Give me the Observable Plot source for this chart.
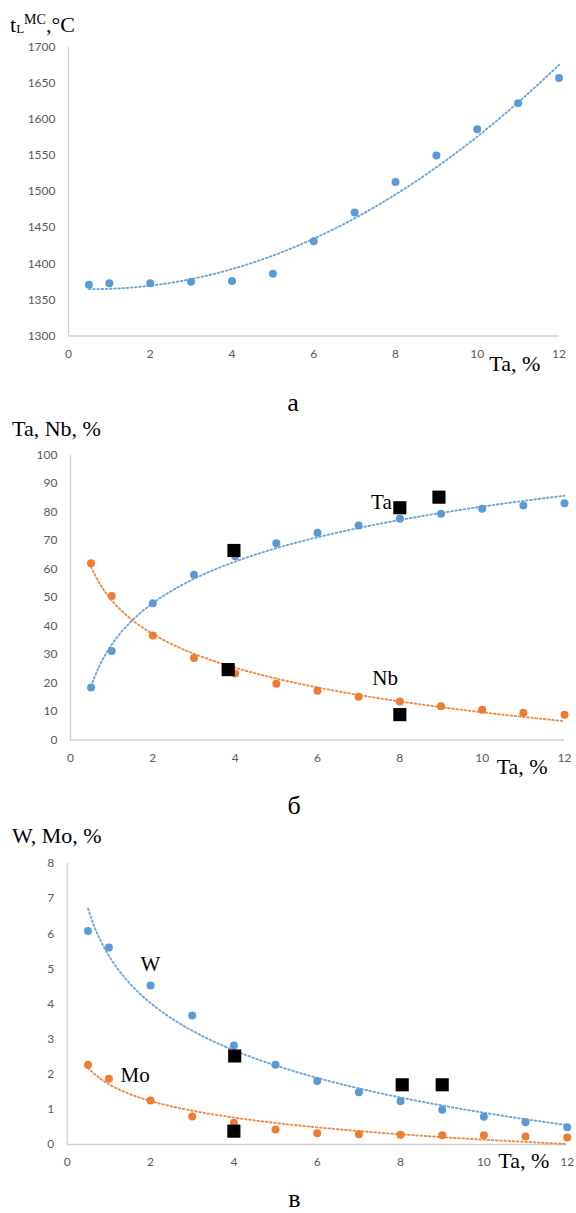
<!DOCTYPE html>
<html><head><meta charset="utf-8">
<script src="https://cdn.jsdelivr.net/npm/d3@7"></script>
<script src="https://cdn.jsdelivr.net/npm/@observablehq/plot@0.6"></script>
<style>
body{margin:0;background:#fff;}
#root{position:relative;width:576px;height:1213px;overflow:hidden;background:#fff;}
.panel{position:absolute;left:0;}
.t{position:absolute;font-family:"Liberation Serif","Times New Roman",serif;color:#000;line-height:1;white-space:nowrap;}
</style></head><body><div id="root"></div>
<script>
// ---------- data ----------
const taPct = [0.5, 1, 2, 3, 4, 5, 6, 7, 8, 9, 10, 11, 12];
const xTicks = [0, 2, 4, 6, 8, 10, 12];

// panel а: liquidus temperature
const tLiquidus = [1371, 1373, 1373, 1375, 1376, 1386, 1431, 1471, 1513, 1550, 1586, 1622, 1657];
const tTicks = [1300, 1350, 1400, 1450, 1500, 1550, 1600, 1650, 1700];

// panel б: Ta, Nb content
const taContent = [18.4, 31.2, 48, 58, 64.5, 69, 72.7, 75.3, 77.6, 79.4, 81.1, 82.3, 83.1];
const nbContent = [62, 50.5, 36.7, 28.8, 23.3, 19.7, 17.3, 15.2, 13.5, 11.8, 10.6, 9.6, 8.9];
const expTaX = [3.97, 8.0, 8.95];
const expTa  = [66.5, 81.5, 85.2];
const expNbX = [3.83, 8.0];
const expNb  = [24.7, 8.9];
const pctTicks = [0, 10, 20, 30, 40, 50, 60, 70, 80, 90, 100];

// panel в: W, Mo content
const wContent  = [6.08, 5.61, 4.53, 3.67, 2.82, 2.27, 1.81, 1.49, 1.23, 0.99, 0.79, 0.63, 0.49];
const moContent = [2.27, 1.87, 1.25, 0.80, 0.62, 0.43, 0.32, 0.29, 0.28, 0.26, 0.26, 0.23, 0.20];
const expWX  = [4.02, 8.04, 9.0];
const expW   = [2.52, 1.70, 1.70];
const expMoX = [4.0];
const expMo  = [0.38];
const wmTicks = [0, 1, 2, 3, 4, 5, 6, 7, 8];

// series labels (data units)
const labelsB = [{label: "Ta", x: 7.30, y: 83.5}, {label: "Nb", x: 7.33, y: 21.6}];
const labelsC = [{label: "W", x: 1.76, y: 5.14}, {label: "Mo", x: 1.28, y: 1.96}];

// ---------- fits (Excel-like trendlines) ----------
function fitPoly2(xs, ys) {
  const n = xs.length;
  let s = [0,0,0,0,0], t = [0,0,0];
  for (let i = 0; i < n; i++) {
    const x = xs[i], y = ys[i];
    for (let k = 0; k < 5; k++) s[k] += Math.pow(x, k);
    for (let k = 0; k < 3; k++) t[k] += y * Math.pow(x, k);
  }
  const A = [[s[0],s[1],s[2],t[0]],[s[1],s[2],s[3],t[1]],[s[2],s[3],s[4],t[2]]];
  for (let i = 0; i < 3; i++) {
    for (let j = i+1; j < 3; j++) {
      const f = A[j][i] / A[i][i];
      for (let k = i; k < 4; k++) A[j][k] -= f * A[i][k];
    }
  }
  const c = [0,0,0];
  for (let i = 2; i >= 0; i--) {
    let v = A[i][3];
    for (let k = i+1; k < 3; k++) v -= A[i][k] * c[k];
    c[i] = v / A[i][i];
  }
  return x => c[0] + c[1]*x + c[2]*x*x;
}
function fitLog(xs, ys) {
  const lx = xs.map(Math.log);
  const mx = d3.mean(lx), my = d3.mean(ys);
  let num = 0, den = 0;
  for (let i = 0; i < xs.length; i++) { num += (lx[i]-mx)*(ys[i]-my); den += (lx[i]-mx)**2; }
  const a = num/den, b = my - a*mx;
  return x => a*Math.log(x) + b;
}

const BLUE = "#5B9BD5", ORANGE = "#ED7D31";
const SERIF = '"Liberation Serif","Times New Roman",serif';
const root = document.getElementById("root");

function makePanel(cfg) {
  const trendX = d3.range(0.5, 12.0001, 0.05);
  const marks = [
    Plot.ruleY([cfg.yDomain[0]], {stroke: "#d0d0d0", strokeWidth: 1.3}),
    Plot.ruleX([0], {stroke: "#d0d0d0", strokeWidth: 1.3})
  ];
  for (const s of cfg.series) {
    const f = s.fit(taPct, s.values);
    const trend = trendX.map(x => ({x, y: f(x)}));
    marks.push(Plot.line(trend, {x: "x", y: "y", stroke: s.color, strokeWidth: 1.9, strokeDasharray: "1.6 2.6", strokeOpacity: 0.9}));
    marks.push(Plot.dot(taPct.map((x, i) => ({x, y: s.values[i]})), {x: "x", y: "y", r: 4, fill: s.color, stroke: null}));
  }
  for (const sq of (cfg.squares || [])) {
    marks.push(Plot.dot(sq.xs.map((x, i) => ({x, y: sq.ys[i]})), {x: "x", y: "y", symbol: "square", r: 7.4, fill: "#000", stroke: null}));
  }
  if (cfg.labels) {
    marks.push(Plot.text(cfg.labels, {x: "x", y: "y", text: "label", textAnchor: "start", fontFamily: SERIF, fontSize: 21, fill: "#000"}));
  }
  const chart = Plot.plot({
    width: 576, height: cfg.height,
    marginLeft: cfg.ml, marginRight: cfg.mr, marginTop: cfg.mt, marginBottom: cfg.mb,
    x: {domain: [0, 12], ticks: xTicks, tickSize: 0, tickPadding: 13, label: null, tickFormat: d3.format("d")},
    y: {domain: cfg.yDomain, ticks: cfg.yTicks, tickSize: 0, tickPadding: 13, label: null, tickFormat: d3.format("d")},
    style: {fontFamily: "Lato, 'Open Sans', sans-serif", fontSize: "12px", color: "#595959", background: "transparent"},
    marks
  });
  chart.classList.add("panel");
  chart.style.top = cfg.top + "px";
  root.appendChild(chart);
}

makePanel({top: 0, height: 380, ml: 68, mr: 17.5, mt: 46.5, mb: 44.5,
  yDomain: [1300, 1700], yTicks: tTicks,
  series: [{values: tLiquidus, color: BLUE, fit: fitPoly2}]});

makePanel({top: 400, height: 400, ml: 70, mr: 12, mt: 54.5, mb: 60.5,
  yDomain: [0, 100], yTicks: pctTicks,
  series: [{values: taContent, color: BLUE, fit: fitLog}, {values: nbContent, color: ORANGE, fit: fitLog}],
  squares: [{xs: expTaX, ys: expTa}, {xs: expNbX, ys: expNb}],
  labels: labelsB});

makePanel({top: 810, height: 403, ml: 66.7, mr: 9.3, mt: 53, mb: 69,
  yDomain: [0, 8], yTicks: wmTicks,
  series: [{values: wContent, color: BLUE, fit: fitLog}, {values: moContent, color: ORANGE, fit: fitLog}],
  squares: [{xs: expWX, ys: expW}, {xs: expMoX, ys: expMo}],
  labels: labelsC});

// ---------- titles & captions ----------
function addText(html, left, baseline, size, center) {
  const d = document.createElement("div");
  d.className = "t";
  d.innerHTML = html;
  d.style.fontSize = size + "px";
  d.style.left = left + "px";
  d.style.top = (baseline - 0.8375 * size) + "px";
  if (center) d.style.transform = "translateX(-50%)";
  root.appendChild(d);
}
addText('t<span style="font-size:13px;position:relative;top:1px">L</span><span style="font-size:14px;position:relative;top:-8px">MC</span>,°C', 10, 32, 22);
addText("Ta, %", 489.3, 371.7, 22);
addText("а", 293, 411.7, 26, true);
addText("Ta, Nb, %", 12, 436.7, 22);
addText("Ta, %", 496.7, 774, 22);
addText("б", 294, 815, 26, true);
addText("W, Mo, %", 12, 843, 22);
addText("Ta, %", 498.3, 1168.3, 22);
addText("в", 294.5, 1207.5, 26, true);
</script></body></html>
